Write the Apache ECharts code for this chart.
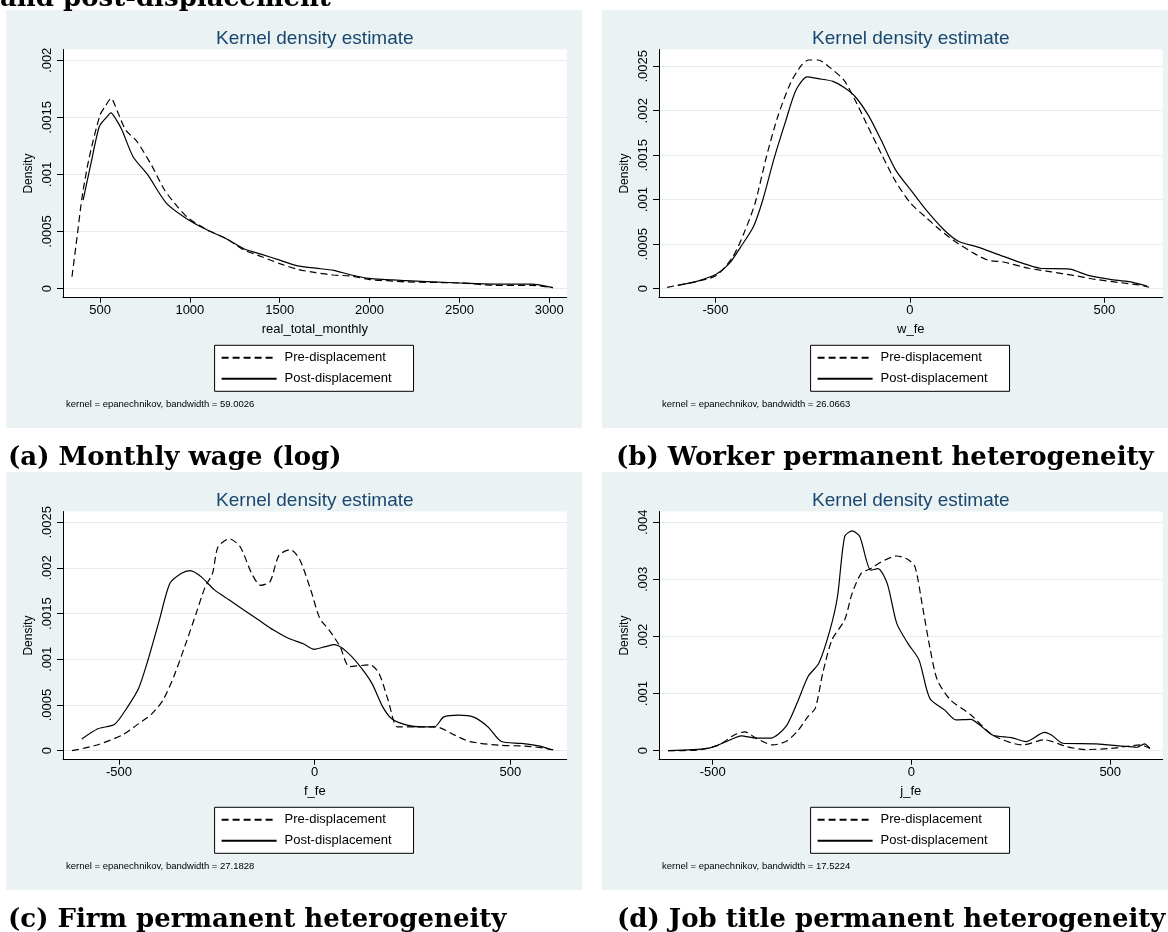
<!DOCTYPE html>
<html>
<head>
<meta charset="utf-8">
<script src="https://cdn.jsdelivr.net/npm/echarts@6/dist/echarts.min.js"></script>
<style>
  html, body { margin: 0; padding: 0; background: #fff; }
  #chart { width: 1168px; height: 932px; }
</style>
</head>
<body>
<div id="chart"></div>
<script>
// kernel density curves as [x, density]
const wagePre = [[344,0.000105],[372,0.00045],[400,0.0008],[440,0.00115],[500,0.00152],[530,0.0016],[561,0.001667],[600,0.00154],[643,0.00139],[705,0.00129],[787,0.00108],[859,0.000864],[931,0.000718],[993,0.000616],[1097,0.000514],[1200,0.00044],[1300,0.00034],[1400,0.00028],[1500,0.00022],[1600,0.00017],[1700,0.00014],[1800,0.00012],[1900,0.00011],[2000,0.00008],[2100,0.00007],[2200,0.00006],[2500,0.00005],[2700,0.00003],[2900,0.00003],[3020,0.00001]];
const wagePost = [[406,0.000775],[450,0.0011],[496,0.00142],[530,0.00149],[561,0.00154],[590,0.00148],[622,0.00139],[684,0.001156],[766,0.000996],[870,0.000748],[993,0.000602],[1097,0.000514],[1200,0.00044],[1300,0.00035],[1400,0.0003],[1500,0.00025],[1600,0.0002],[1700,0.00018],[1800,0.00016],[1900,0.00012],[2000,0.00009],[2100,0.00008],[2200,0.00007],[2500,0.00005],[2700,0.00004],[2900,0.00004],[3020,0.00001]];

const workerPre = [[-624,0.000016],[-550,0.00008],[-497,0.00015],[-455,0.00036],[-426,0.00063],[-398,0.00096],[-369,0.00148],[-340,0.00193],[-307,0.00231],[-279,0.00251],[-260,0.00257],[-236,0.00257],[-207,0.00249],[-169,0.00234],[-141,0.00212],[-112,0.00186],[-74,0.00152],[-36,0.0012],[2,0.00096],[39,0.00081],[78,0.00066],[116,0.00053],[164,0.0004],[201,0.00032],[240,0.0003],[306,0.00023],[363,0.00019],[420,0.00015],[477,0.000105],[543,0.000067],[592,0.00004],[615,0.000016]];
const workerPost = [[-597,0.000038],[-550,0.00008],[-497,0.000165],[-464,0.000285],[-435,0.00047],[-402,0.0007],[-378,0.001],[-350,0.00145],[-321,0.00186],[-293,0.00223],[-264,0.00238],[-236,0.00236],[-198,0.00233],[-169,0.00226],[-141,0.00216],[-107,0.00195],[-74,0.00167],[-36,0.00133],[2,0.00111],[39,0.0009],[88,0.00066],[126,0.00053],[173,0.00047],[230,0.00038],[287,0.00029],[335,0.00023],[411,0.00022],[458,0.00015],[515,0.000105],[563,0.00008],[610,0.00003]];

const firmPre = [[-620,0],[-558,0.00006],[-492,0.00017],[-455,0.00028],[-417,0.0004],[-388,0.00055],[-360,0.00081],[-332,0.00114],[-303,0.0015],[-280,0.00179],[-261,0.00194],[-247,0.00223],[-218,0.00232],[-190,0.00223],[-161,0.00194],[-138,0.00181],[-114,0.00185],[-91,0.00214],[-62,0.0022],[-39,0.0021],[-10,0.00176],[13,0.00145],[37,0.00132],[65,0.00114],[89,0.00092],[141,0.00094],[164,0.00085],[188,0.00055],[212,0.00026],[254,0.00026],[311,0.00026],[358,0.00017],[396,0.0001],[471,0.00006],[537,0.00005],[585,0.00003],[618,0]];
const firmPost = [[-595,0.000128],[-554,0.00024],[-511,0.00029],[-478,0.00048],[-450,0.00068],[-426,0.00099],[-398,0.00141],[-370,0.00183],[-341,0.00194],[-318,0.00197],[-289,0.0019],[-256,0.00176],[-218,0.00165],[-181,0.00154],[-143,0.00143],[-105,0.00132],[-67,0.00123],[-29,0.00117],[-1,0.00111],[28,0.00114],[51,0.00116],[80,0.00109],[113,0.00094],[146,0.00074],[174,0.00048],[197,0.00035],[236,0.00028],[273,0.00026],[306,0.00026],[330,0.00037],[368,0.00039],[405,0.00037],[443,0.00026],[477,0.0001],[528,0.00008],[576,0.00005],[604,0.00001]];

const jobPre = [[-612,0],[-540,0.00001],[-484,0.0001],[-447,0.00027],[-419,0.00033],[-391,0.00022],[-349,0.0001],[-316,0.00016],[-288,0.00033],[-260,0.0006],[-242,0.00074],[-223,0.00136],[-200,0.00194],[-168,0.00229],[-149,0.00276],[-126,0.00311],[-102,0.00319],[-75,0.00331],[-37,0.00341],[-9,0.00335],[9,0.00322],[28,0.00252],[46,0.00182],[65,0.00124],[98,0.00089],[149,0.00063],[205,0.00027],[279,0.0001],[335,0.00019],[391,0.00007],[437,0.00002],[502,0.00004],[577,0.0001],[600,0.00004]];
const jobPost = [[-612,0],[-512,0.00004],[-465,0.00016],[-428,0.00026],[-391,0.00022],[-354,0.00022],[-316,0.00042],[-288,0.00083],[-260,0.0013],[-233,0.00153],[-205,0.00211],[-186,0.0027],[-168,0.00375],[-149,0.00385],[-130,0.00375],[-102,0.00316],[-84,0.00319],[-61,0.00293],[-37,0.00223],[-9,0.00188],[19,0.00159],[46,0.00092],[84,0.00071],[112,0.00054],[149,0.00055],[177,0.00042],[205,0.00027],[251,0.00023],[288,0.00016],[335,0.00032],[353,0.00027],[381,0.00013],[465,0.00012],[530,0.00008],[567,0.00006],[586,0.00012],[600,0.00004]];

// axis ticks per panel
const wageXTicks = [500, 1000, 1500, 2000, 2500, 3000];
const feXTicks = [-500, 0, 500];
const yTicks25 = [0, 0.0005, 0.001, 0.0015, 0.002, 0.0025];
const yTicks20 = [0, 0.0005, 0.001, 0.0015, 0.002];
const yTicks40 = [0, 0.001, 0.002, 0.003, 0.004];

const xNames = ['real_total_monthly', 'w_fe', 'f_fe', 'j_fe'];
const bandwidths = ['59.0026', '26.0663', '27.1828', '17.5224'];
const captions = ['(a) Monthly wage (log)', '(b) Worker permanent heterogeneity',
  '(c) Firm permanent heterogeneity', '(d) Job title permanent heterogeneity'];
const seriesNames = ['Pre-displacement', 'Post-displacement'];

const FONT = "'Liberation Sans', Arial, Helvetica, sans-serif";
const SERIF = "'DejaVu Serif', 'Liberation Serif', serif";
const BG = '#eaf2f3';

// panel boxes (graph region) and inner plot region offsets
const PANEL_W = 576, PANEL_H = 418;
const PLOT = { left: 57, top: 39.5, width: 503.7, height: 248.2 };
const panels = [
  { left: 6, top: 10, capX: 8, x: [294, 3097], y: [-0.0000788, 0.0020946], xt: wageXTicks, yt: yTicks20, pre: wagePre, post: wagePost },
  { left: 602, top: 10, capX: 616, x: [-645, 650], y: [-0.000101, 0.002688], xt: feXTicks, yt: yTicks25, pre: workerPre, post: workerPost },
  { left: 6, top: 472, capX: 8, x: [-643, 644], y: [-0.0000985, 0.002618], xt: feXTicks, yt: yTicks25, pre: firmPre, post: firmPost },
  { left: 602, top: 472, capX: 617, x: [-635, 632], y: [-0.000158, 0.004189], xt: feXTicks, yt: yTicks40, pre: jobPre, post: jobPost }
];

const fmtDensity = (v) => (v === 0 ? '0' : String(+v.toFixed(5)).replace(/^0\./, '.'));

const grids = [], xAxes = [], yAxes = [], series = [], legends = [], graphics = [];

// tail of the figure caption, cut by the top edge
graphics.push({
  type: 'text', z: 10,
  style: { text: 'and post-displacement', x: 0, y: -0.7, font: `bold 26px ${SERIF}`, fill: '#000',
    textAlign: 'left', align: 'left', textVerticalAlign: 'middle', verticalAlign: 'middle' }
});

panels.forEach((p, i) => {
  const gl = p.left + PLOT.left, gt = p.top + PLOT.top;
  graphics.push({
    type: 'rect', z: -10, silent: true,
    shape: { x: p.left, y: p.top, width: PANEL_W, height: PANEL_H },
    style: { fill: BG }
  });
  graphics.push({
    type: 'text', z: 10,
    style: { text: 'Kernel density estimate', x: gl + PLOT.width / 2, y: p.top + 28.3,
      font: `19px ${FONT}`, fill: '#1a476f',
      textAlign: 'center', align: 'center', textVerticalAlign: 'middle', verticalAlign: 'middle' }
  });
  graphics.push({
    type: 'text', z: 10,
    style: { text: `kernel = epanechnikov, bandwidth = ${bandwidths[i]}`, x: p.left + 60, y: p.top + 394.3,
      font: `9.5px ${FONT}`, fill: '#000',
      textAlign: 'left', align: 'left', textVerticalAlign: 'middle', verticalAlign: 'middle' }
  });
  graphics.push({
    type: 'text', z: 10,
    style: { text: captions[i], x: p.capX, y: p.top + PANEL_H + 30,
      font: `bold 26px ${SERIF}`, fill: '#000',
      textAlign: 'left', align: 'left', textVerticalAlign: 'middle', verticalAlign: 'middle' }
  });

  grids.push({
    left: gl, top: gt, width: PLOT.width, height: PLOT.height,
    show: true, backgroundColor: '#fff', borderWidth: 0
  });
  xAxes.push({
    type: 'value', gridIndex: i, min: p.x[0], max: p.x[1],
    name: xNames[i], nameLocation: 'middle', nameGap: 25,
    nameTextStyle: { fontFamily: FONT, fontSize: 13, color: '#000' },
    axisLine: { show: true, onZero: false, lineStyle: { color: '#000', width: 1 } },
    axisTick: { show: true, length: 5, customValues: p.xt, lineStyle: { color: '#000' } },
    axisLabel: { customValues: p.xt, margin: 6, fontFamily: FONT, fontSize: 13, color: '#000',
      formatter: (v) => String(v) },
    splitLine: { show: false }
  });
  yAxes.push({
    type: 'value', gridIndex: i, min: p.y[0], max: p.y[1],
    name: 'Density', nameLocation: 'middle', nameGap: 28,
    nameTextStyle: { fontFamily: FONT, fontSize: 12, color: '#000' },
    axisLine: { show: true, onZero: false, lineStyle: { color: '#000', width: 1 } },
    axisTick: { show: true, length: 6, customValues: p.yt, lineStyle: { color: '#000' } },
    axisLabel: { customValues: p.yt, rotate: 90, margin: 9, fontFamily: FONT, fontSize: 13, color: '#000',
      formatter: fmtDensity },
    splitLine: { show: true, lineStyle: { color: '#e3ebed', width: 1 } }
  });
  series.push({
    name: seriesNames[0], type: 'line', xAxisIndex: i, yAxisIndex: i,
    data: p.pre, symbol: 'none', smooth: 0.25, z: 3,
    lineStyle: { color: '#000', width: 1.2, type: [7, 4] }, itemStyle: { color: '#000' }
  });
  series.push({
    name: seriesNames[1], type: 'line', xAxisIndex: i, yAxisIndex: i,
    data: p.post, symbol: 'none', smooth: 0.25, z: 4,
    lineStyle: { color: '#000', width: 1.2, type: 'solid' }, itemStyle: { color: '#000' }
  });
  legends.push({
    data: seriesNames, orient: 'vertical',
    left: p.left + 208.6, top: p.top + 335.3,
    backgroundColor: '#fff', borderColor: '#000', borderWidth: 1,
    padding: [6, 22, 6, 6], itemGap: 8, itemWidth: 55, itemHeight: 12,
    selectedMode: false,
    itemStyle: { opacity: 0, borderWidth: 0 },
    textStyle: { fontFamily: FONT, fontSize: 13, color: '#000', padding: [0, 0, 0, 3] }
  });
});

const chart = echarts.init(document.getElementById('chart'), null, { renderer: 'canvas' });
chart.setOption({
  animation: false,
  backgroundColor: '#fff',
  grid: grids,
  xAxis: xAxes,
  yAxis: yAxes,
  legend: legends,
  series,
  graphic: graphics
});
</script>
</body>
</html>
